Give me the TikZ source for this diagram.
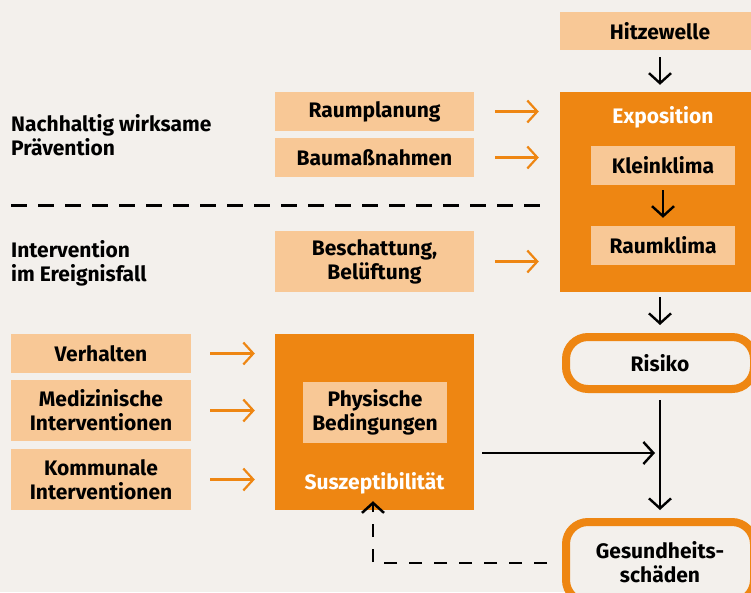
\documentclass[tikz,border=0pt]{standalone}
\usepackage{fontspec}
\setmainfont{Fira Sans}
\usetikzlibrary{arrows.meta}
\definecolor{bg}{RGB}{243,240,236}
\definecolor{org}{RGB}{238,134,18}
\definecolor{lorg}{RGB}{248,200,150}
\begin{document}
\begin{tikzpicture}[x=1pt,y=-1pt,
  font=\fontsize{21}{24}\selectfont\bfseries,
  lbox/.style={fill=lorg, inner sep=0pt, align=center, text=black},
  obox/.style={fill=org, inner sep=0pt},
  rbox/.style={draw=org, line width=8pt, rounded corners=22pt, fill=bg, inner sep=0pt, align=center},
  wlabel/.style={text=white, inner sep=0pt},
  barr/.style={line width=2.4pt, -{Straight Barb[length=10pt,width=22pt]}},
  oarr/.style={draw=org, line width=2.2pt, -{Straight Barb[length=10pt,width=22pt]}},
  sep/.style={line width=3pt, dash pattern=on 16pt off 11pt},
  fb/.style={line width=2.5pt, dash pattern=on 13pt off 12pt, -{Straight Barb[length=10pt,width=22pt]}},
  side/.style={align=left, anchor=west, inner sep=0pt}]
\fill[bg] (0,0) rectangle (751,592);
\clip (0,0) rectangle (751,592);
% right column
\node[lbox, minimum width=200pt, minimum height=38pt] (hitze) at (660,31) {Hitzewelle};
\node[obox, minimum width=200pt, minimum height=200pt] (expo) at (660,192) {};
\node[wlabel] (expol) at (663,117) {Exposition};
\node[lbox, minimum width=144pt, minimum height=39pt] (klein) at (663,165.5) {Kleinklima};
\node[lbox, minimum width=144pt, minimum height=39pt] (raum) at (663,245.5) {Raumklima};
\node[rbox, minimum width=188pt, minimum height=52pt] (risiko) at (660,363) {Risiko};
\node[rbox, minimum width=188pt, minimum height=80pt] (gesund) at (660,562) {Gesundheits-\\schäden};
% middle column
\node[lbox, minimum width=199pt, minimum height=39pt] (rp) at (374.5,111.5) {Raumplanung};
\node[lbox, minimum width=199pt, minimum height=39pt] (bm) at (374.5,157.5) {Baumaßnahmen};
\node[lbox, minimum width=199pt, minimum height=61pt] (bs) at (374.5,261.5) {Beschattung,\\Belüftung};
\node[obox, minimum width=199pt, minimum height=176pt] (susz) at (374.5,422) {};
\node[lbox, minimum width=144pt, minimum height=61pt] (phys) at (375,412.5) {Physische\\Bedingungen};
\node[wlabel] (suszl) at (374.5,483) {Suszeptibilität};
% left column
\node[lbox, minimum width=180pt, minimum height=39pt] (verh) at (101,353.5) {Verhalten};
\node[lbox, minimum width=180pt, minimum height=61pt] (med) at (101,410.5) {Medizinische\\Interventionen};
\node[lbox, minimum width=180pt, minimum height=61pt] (komm) at (101,479.5) {Kommunale\\Interventionen};
\node[side] (nach) at (11,135) {Nachhaltig wirksame\\Prävention};
\node[side] (inter) at (11,263.5) {Intervention\\im Ereignisfall};
% separator
\coordinate (s1) at (11,205);
\coordinate (s2) at (546,205);
\draw[sep] (s1) -- (s2);
% orange arrows
\draw[oarr, shorten <=21pt, shorten >=21pt] (rp.east) -- (rp.east -| expo.west);
\draw[oarr, shorten <=21pt, shorten >=21pt] (bm.east) -- (bm.east -| expo.west);
\draw[oarr, shorten <=21pt, shorten >=21pt] (bs.east) -- (bs.east -| expo.west);
\draw[oarr, shorten <=19pt, shorten >=20pt] (verh.east) -- (verh.east -| susz.west);
\draw[oarr, shorten <=19pt, shorten >=20pt] (med.east) -- (med.east -| susz.west);
\draw[oarr, shorten <=19pt, shorten >=20pt] (komm.east) -- (komm.east -| susz.west);
% black arrows
\draw[barr, shorten <=7pt, shorten >=7pt] (hitze.south) -- (expo.north);
\draw[barr, shorten <=5pt, shorten >=8pt] (klein.south -| raum.north) -- (raum.north);
\draw[barr, shorten <=5pt, shorten >=8pt] (expo.south) -- (risiko.north);
\draw[barr, shorten <=7pt, shorten >=8pt] (risiko.south) -- (gesund.north);
\coordinate (j) at (660,453);
\draw[barr, shorten <=8pt, shorten >=5pt] (susz.east |- j) -- (j);
% feedback
\coordinate (f) at (373,563);
\draw[fb, shorten <=15pt] (gesund.west |- f) -- (f) -- ([yshift=9pt]susz.south -| f);
\end{tikzpicture}
\end{document}
